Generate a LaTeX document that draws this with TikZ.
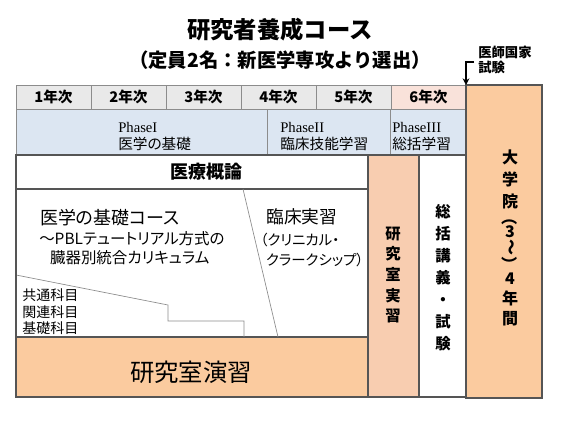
\documentclass[tikz,border=0pt]{standalone}
\usepackage{fontspec}
\usepackage{graphicx}
\setmainfont[RawFeature=+palt]{Noto Sans CJK JP}
\newfontfamily\plainjp{Noto Sans CJK JP}
\newfontfamily\phasefont{Liberation Serif}
\usetikzlibrary{arrows.meta}

\definecolor{gridline}{HTML}{8C8C8C}
\definecolor{frameline}{HTML}{555555}
\definecolor{yeargray}{HTML}{E9E9E9}
\definecolor{yearpink}{HTML}{F9E2DA}
\definecolor{phaseblue}{HTML}{DCE6F2}
\definecolor{laborange}{HTML}{FBCB9F}
\definecolor{labpink}{HTML}{F8CDB0}

\newcommand{\turnchar}[1]{\rotatebox[origin=c]{-90}{\plainjp #1}}

\tikzset{
  yearcell/.style={fill=yeargray, draw=gridline, line width=0.6pt},
  phasecell/.style={fill=phaseblue, draw=gridline, line width=0.6pt},
  framebox/.style={draw=frameline, line width=1pt},
  yearlabel/.style={inner sep=0pt, font=\bfseries\fontsize{11}{12}\selectfont},
  phaselabel/.style={anchor=west, align=left, inner sep=0pt, font=\fontsize{11}{13}\selectfont},
  vlabel/.style={align=center, inner sep=0pt, font=\bfseries\fontsize{11.5}{15.5}\selectfont},
  steplines/.style={draw=gridline, line width=0.5pt},
}

\begin{document}
\begin{tikzpicture}[x=0.75pt,y=-0.75pt]
	\useasboundingbox (0,0) rectangle (565,424);
	
	\node[font=\plainjp\bfseries\fontsize{17.5}{20}\selectfont] (title) at (280,30) {研究者養成コース};
	\node[font=\plainjp\bfseries\fontsize{14.5}{17}\selectfont] (subtitle) at (280,60) {（定員2名：新医学専攻より選出）};
	\node[anchor=west, align=left, inner sep=0pt, font=\plainjp\bfseries\fontsize{10}{11.3}\selectfont] (exam) at (478,59.5) {医師国家\\試験};
	
	% year row
	\foreach \i in {1,...,5}{
		\filldraw[yearcell] ({16+75*(\i-1)},85) rectangle ({16+75*\i},109);
		\node[yearlabel] (year\i) at ({16+75*(\i-0.5)},97) {\i{}年次};
	}
	\filldraw[yearcell, fill=yearpink] (391,85) rectangle (466,109);
	\node[yearlabel] (year6) at (428.5,97) {6年次};
	
	% phase row
	\filldraw[phasecell] (16,109) rectangle (267,155);
	\filldraw[phasecell] (267,109) rectangle (390,155);
	\filldraw[phasecell] (390,109) rectangle (466,155);
	\node[phaselabel] (phaseA) at (118,136.5) {{\phasefont PhaseI}\\医学の基礎};
	\node[phaselabel] (phaseB) at (280,136.5) {{\phasefont PhaseII}\\臨床技能学習};
	\node[phaselabel] (phaseC) at (392,136.5) {{\phasefont PhaseIII}\\総括学習};
	
	% lower part
	\fill[white] (16,155) rectangle (466,397);
	\filldraw[fill=laborange, framebox] (16,337) rectangle (368,397);
	\filldraw[fill=labpink, framebox] (368,155) rectangle (419,397);
	\draw[framebox] (419,155) rectangle (466,397);
	\draw[framebox] (16,155) rectangle (368,189);
	
	\draw[steplines] (16,275) -- (168,305) -- (168,321) -- (244,321) -- (244,337);
	\draw[steplines] (243,189) -- (278,337);
	
	\draw[frameline, line width=1.2pt] (16,155) rectangle (466,397);
	\filldraw[fill=laborange, draw=frameline, line width=1pt] (466,85) rectangle (542,398);
	
	\draw[-{Stealth[length=5pt,width=5pt]}, line width=0.8pt] (474,62) -- (466,62) -- (466,85);
	
	\node[font=\bfseries\fontsize{13.5}{15}\selectfont] (gairon) at (206,172) {医療概論};
	\node[anchor=west, inner sep=0pt, font=\fontsize{13.5}{15}\selectfont] (kiso) at (40,218) {医学の基礎コース};
	\node[anchor=north west, align=left, inner sep=0pt, font=\fontsize{11.6}{14.3}\selectfont] (pbl) at (39,231) {～PBLテュートリアル方式の\\\hspace{0.7em}臓器別統合カリキュラム};
	\node[anchor=west, align=left, inner sep=0pt, font=\fontsize{10.5}{12.4}\selectfont] (kamoku) at (22,312) {共通科目\\関連科目\\基礎科目};
	\node[anchor=west, inner sep=0pt, font=\fontsize{13.3}{15}\selectfont] (rinsho) at (266,217) {臨床実習};
	\node[anchor=north west, align=left, inner sep=0pt, font=\fontsize{10.8}{15}\selectfont] (clerk) at (260,233) {（クリニカル・\\\hspace{0.4em}クラークシップ）};
	\node[font=\fontsize{18.3}{20}\selectfont] (ensyu) at (191,372) {研究室演習};
	
	\node[vlabel] (jisshu) at (393,275) {研\\究\\室\\実\\習};
	\node[vlabel, font=\bfseries\fontsize{11.5}{16.5}\selectfont] (sokatsu) at (443,278) {総\\括\\講\\義\\・\\試\\験};
	\node[vlabel, font=\bfseries\fontsize{12}{11}\selectfont] (daigakuin) at (510,238) {大\\[4pt]学\\[4pt]院\\[-0.5pt]\turnchar{（}\\[-0.5pt]3\\[-0.5pt]\turnchar{～}\\[-0.5pt]\turnchar{）}\\[-0.5pt]4\\[4pt]年\\[4pt]間};
\end{tikzpicture}
\end{document}
